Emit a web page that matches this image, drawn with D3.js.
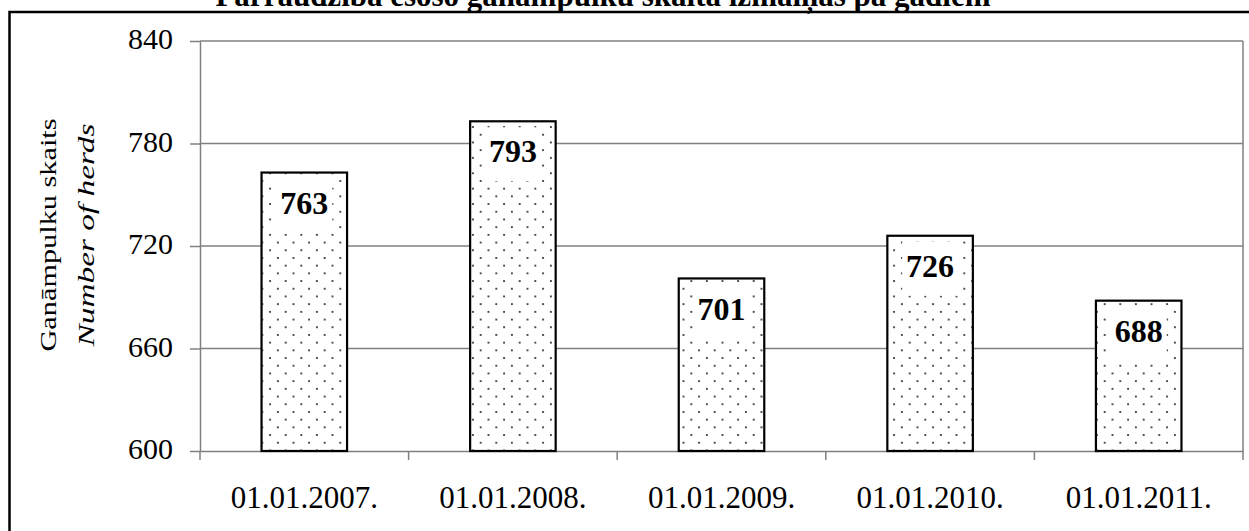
<!DOCTYPE html>
<html>
<head>
<meta charset="utf-8">
<script src="https://cdn.jsdelivr.net/npm/d3@7"></script>
<style>
  html, body { margin: 0; padding: 0; background: #fff; overflow: hidden; }
  svg { display: block; font-family: "Liberation Serif", "Times New Roman", serif; }
</style>
</head>
<body>
<svg id="chart"></svg>
<script>
// Dati
const categories = ["01.01.2007.", "01.01.2008.", "01.01.2009.", "01.01.2010.", "01.01.2011."];
const herds = [763, 793, 701, 726, 688];
const yTicks = [600, 660, 720, 780, 840];
const titleText = "Pārraudzībā esošo ganāmpulku skaita izmaiņas pa gadiem";

const width = 1249, height = 531;
const svg = d3.select("#chart").attr("width", width).attr("height", height);

// Punktu raksts stabiņiem
const defs = svg.append("defs");
const pat = defs.append("pattern")
  .attr("id", "dots")
  .attr("patternUnits", "userSpaceOnUse")
  .attr("x", 1)
  .attr("width", 15.6)
  .attr("height", 15.4);
pat.append("rect").attr("width", 15.6).attr("height", 15.4).attr("fill", "#fff");
pat.append("circle").attr("cx", 3.9).attr("cy", 3.8).attr("r", 1).attr("fill", "#111");
pat.append("circle").attr("cx", 11.7).attr("cy", 11.5).attr("r", 1).attr("fill", "#111");

// Ārējais rāmis
svg.append("rect")
  .attr("x", 9.5).attr("y", 12)
  .attr("width", 1300).attr("height", 600)
  .attr("fill", "none")
  .attr("stroke", "#000")
  .attr("stroke-width", 2.5);

// Virsraksts (nogriezts augšā)
svg.append("text")
  .attr("x", 603)
  .attr("y", 6)
  .attr("text-anchor", "middle")
  .attr("font-weight", "bold")
  .attr("font-size", "31px")
  .text(titleText);

const plot = { left: 200, right: 1243, top: 41, bottom: 451 };

const x = d3.scaleBand()
  .domain(categories)
  .range([plot.left, plot.right])
  .paddingInner(0.59)
  .paddingOuter(0.295);

const y = d3.scaleLinear()
  .domain([600, 840])
  .range([plot.bottom, plot.top]);

// Režģa līnijas
svg.append("g")
  .selectAll("line")
  .data(yTicks.slice(1))
  .join("line")
  .attr("x1", plot.left)
  .attr("x2", plot.right)
  .attr("y1", d => y(d))
  .attr("y2", d => y(d))
  .attr("stroke", "#808080")
  .attr("stroke-width", 1.5);

// Labā mala
svg.append("line")
  .attr("x1", plot.right).attr("x2", plot.right)
  .attr("y1", plot.top).attr("y2", plot.bottom)
  .attr("stroke", "#808080")
  .attr("stroke-width", 1.5);

// Y ass
const yAxis = svg.append("g")
  .attr("transform", `translate(${plot.left},0)`)
  .call(d3.axisLeft(y).tickValues(yTicks).tickSize(10).tickPadding(17).tickSizeOuter(0));
yAxis.select(".domain").attr("stroke", "#808080").attr("stroke-width", 1.5);
yAxis.selectAll(".tick line").attr("stroke", "#808080").attr("stroke-width", 1.5);
yAxis.selectAll(".tick text")
  .attr("font-family", "Liberation Serif, Times New Roman, serif")
  .attr("font-size", "30px")
  .attr("dy", "0.25em")
  .attr("fill", "#000");

// X ass
const xAxis = svg.append("g")
  .attr("transform", `translate(0,${plot.bottom})`)
  .call(d3.axisBottom(x).tickSize(0).tickPadding(35).tickSizeOuter(0));
xAxis.select(".domain").attr("stroke", "#808080").attr("stroke-width", 1.5);
xAxis.selectAll(".tick text")
  .attr("font-family", "Liberation Serif, Times New Roman, serif")
  .attr("font-size", "31px")
  .attr("fill", "#000");

// Kategoriju iedaļas starp stabiņiem
svg.append("g")
  .selectAll("line")
  .data(d3.range(categories.length + 1))
  .join("line")
  .attr("x1", i => plot.left + i * (plot.right - plot.left) / categories.length)
  .attr("x2", i => plot.left + i * (plot.right - plot.left) / categories.length)
  .attr("y1", plot.bottom)
  .attr("y2", plot.bottom + 9)
  .attr("stroke", "#808080")
  .attr("stroke-width", 1.5);

// Stabiņi
svg.append("g")
  .selectAll("rect")
  .data(herds)
  .join("rect")
  .attr("x", (d, i) => x(categories[i]))
  .attr("y", d => y(d))
  .attr("width", x.bandwidth())
  .attr("height", d => y(600) - y(d))
  .attr("fill", "url(#dots)")
  .attr("stroke", "#000")
  .attr("stroke-width", 2.2);

// Vērtību uzraksti ar baltu fonu
const labels = svg.append("g")
  .selectAll("g")
  .data(herds)
  .join("g")
  .attr("transform", (d, i) => `translate(${x(categories[i]) + x.bandwidth() / 2},${y(d) + 30})`);
labels.append("rect")
  .attr("x", -28)
  .attr("y", -24)
  .attr("width", 56)
  .attr("height", 54)
  .attr("fill", "#fff");
labels.append("text")
  .attr("text-anchor", "middle")
  .attr("dy", "0.35em")
  .attr("font-weight", "bold")
  .attr("font-size", "32px")
  .text(d => d);

// Y ass nosaukums
const yTitle = svg.append("text")
  .attr("transform", "translate(0,235) rotate(-90)")
  .attr("text-anchor", "middle")
  .attr("font-size", "24px");
yTitle.append("tspan")
  .attr("x", 0).attr("y", 56)
  .attr("textLength", 233)
  .attr("lengthAdjust", "spacingAndGlyphs")
  .text("Ganāmpulku skaits");
yTitle.append("tspan")
  .attr("x", 0).attr("y", 94)
  .attr("font-style", "italic")
  .attr("textLength", 223)
  .attr("lengthAdjust", "spacingAndGlyphs")
  .text("Number of herds");
</script>
</body>
</html>
